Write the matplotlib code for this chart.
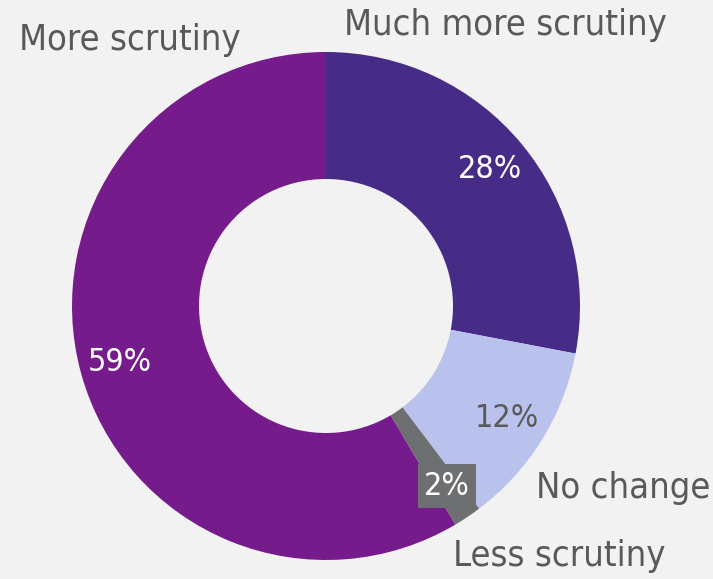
import numpy as np
import matplotlib.pyplot as plt

categories = ["Much more scrutiny", "No change", "Less scrutiny", "More scrutiny"]
shares = [28.0, 11.7, 1.8, 58.5]          # wedge sizes as drawn
pct_labels = ["28%", "12%", "2%", "59%"]  # labels as printed
colors = ["#472C87", "#B9C2EC", "#6E6F71", "#751B8C"]
pct_colors = ["white", "#595959", "white", "white"]

plt.rcParams["font.family"] = ["DejaVu Sans"]
plt.rcParams["font.stretch"] = "condensed"

W, H = 713, 579
cx, cy, R = 326, 306, 254

fig = plt.figure(figsize=(W / 100, H / 100), dpi=100, facecolor="#F2F2F2")
ax = fig.add_axes([0, 0, 1, 1])
ax.set_facecolor("#F2F2F2")

wedges, _ = ax.pie(shares, colors=colors, startangle=90, counterclock=False,
                   radius=1, wedgeprops=dict(width=0.5, linewidth=0))
ax.set_xlim(-cx / R, (W - cx) / R)
ax.set_ylim(-(H - cy) / R, cy / R)
ax.set_aspect("equal")
ax.axis("off")

# percentage labels at wedge middles
for lab, c, w in zip(pct_labels, pct_colors, wedges):
    ang = np.deg2rad((w.theta1 + w.theta2) / 2)
    r = 0.84
    box = None
    if lab == "2%":
        r = 0.855
        box = dict(boxstyle="square,pad=0.2", fc="#6E6F71", ec="none")
    ax.text(r * np.cos(ang), r * np.sin(ang), lab, color=c, fontsize=23,
            ha="center", va="center", bbox=box)

# outer category labels (pixel positions of text centres)
label_pos = {"Much more scrutiny": (505, 25), "More scrutiny": (130, 40),
             "No change": (623, 488), "Less scrutiny": (559, 556)}
for name in categories:
    px, py = label_pos[name]
    ax.text((px - cx) / R, (cy - py) / R, name, color="#595959", fontsize=26,
            ha="center", va="center")

fig.savefig("out.png", dpi=100, facecolor=fig.get_facecolor())
